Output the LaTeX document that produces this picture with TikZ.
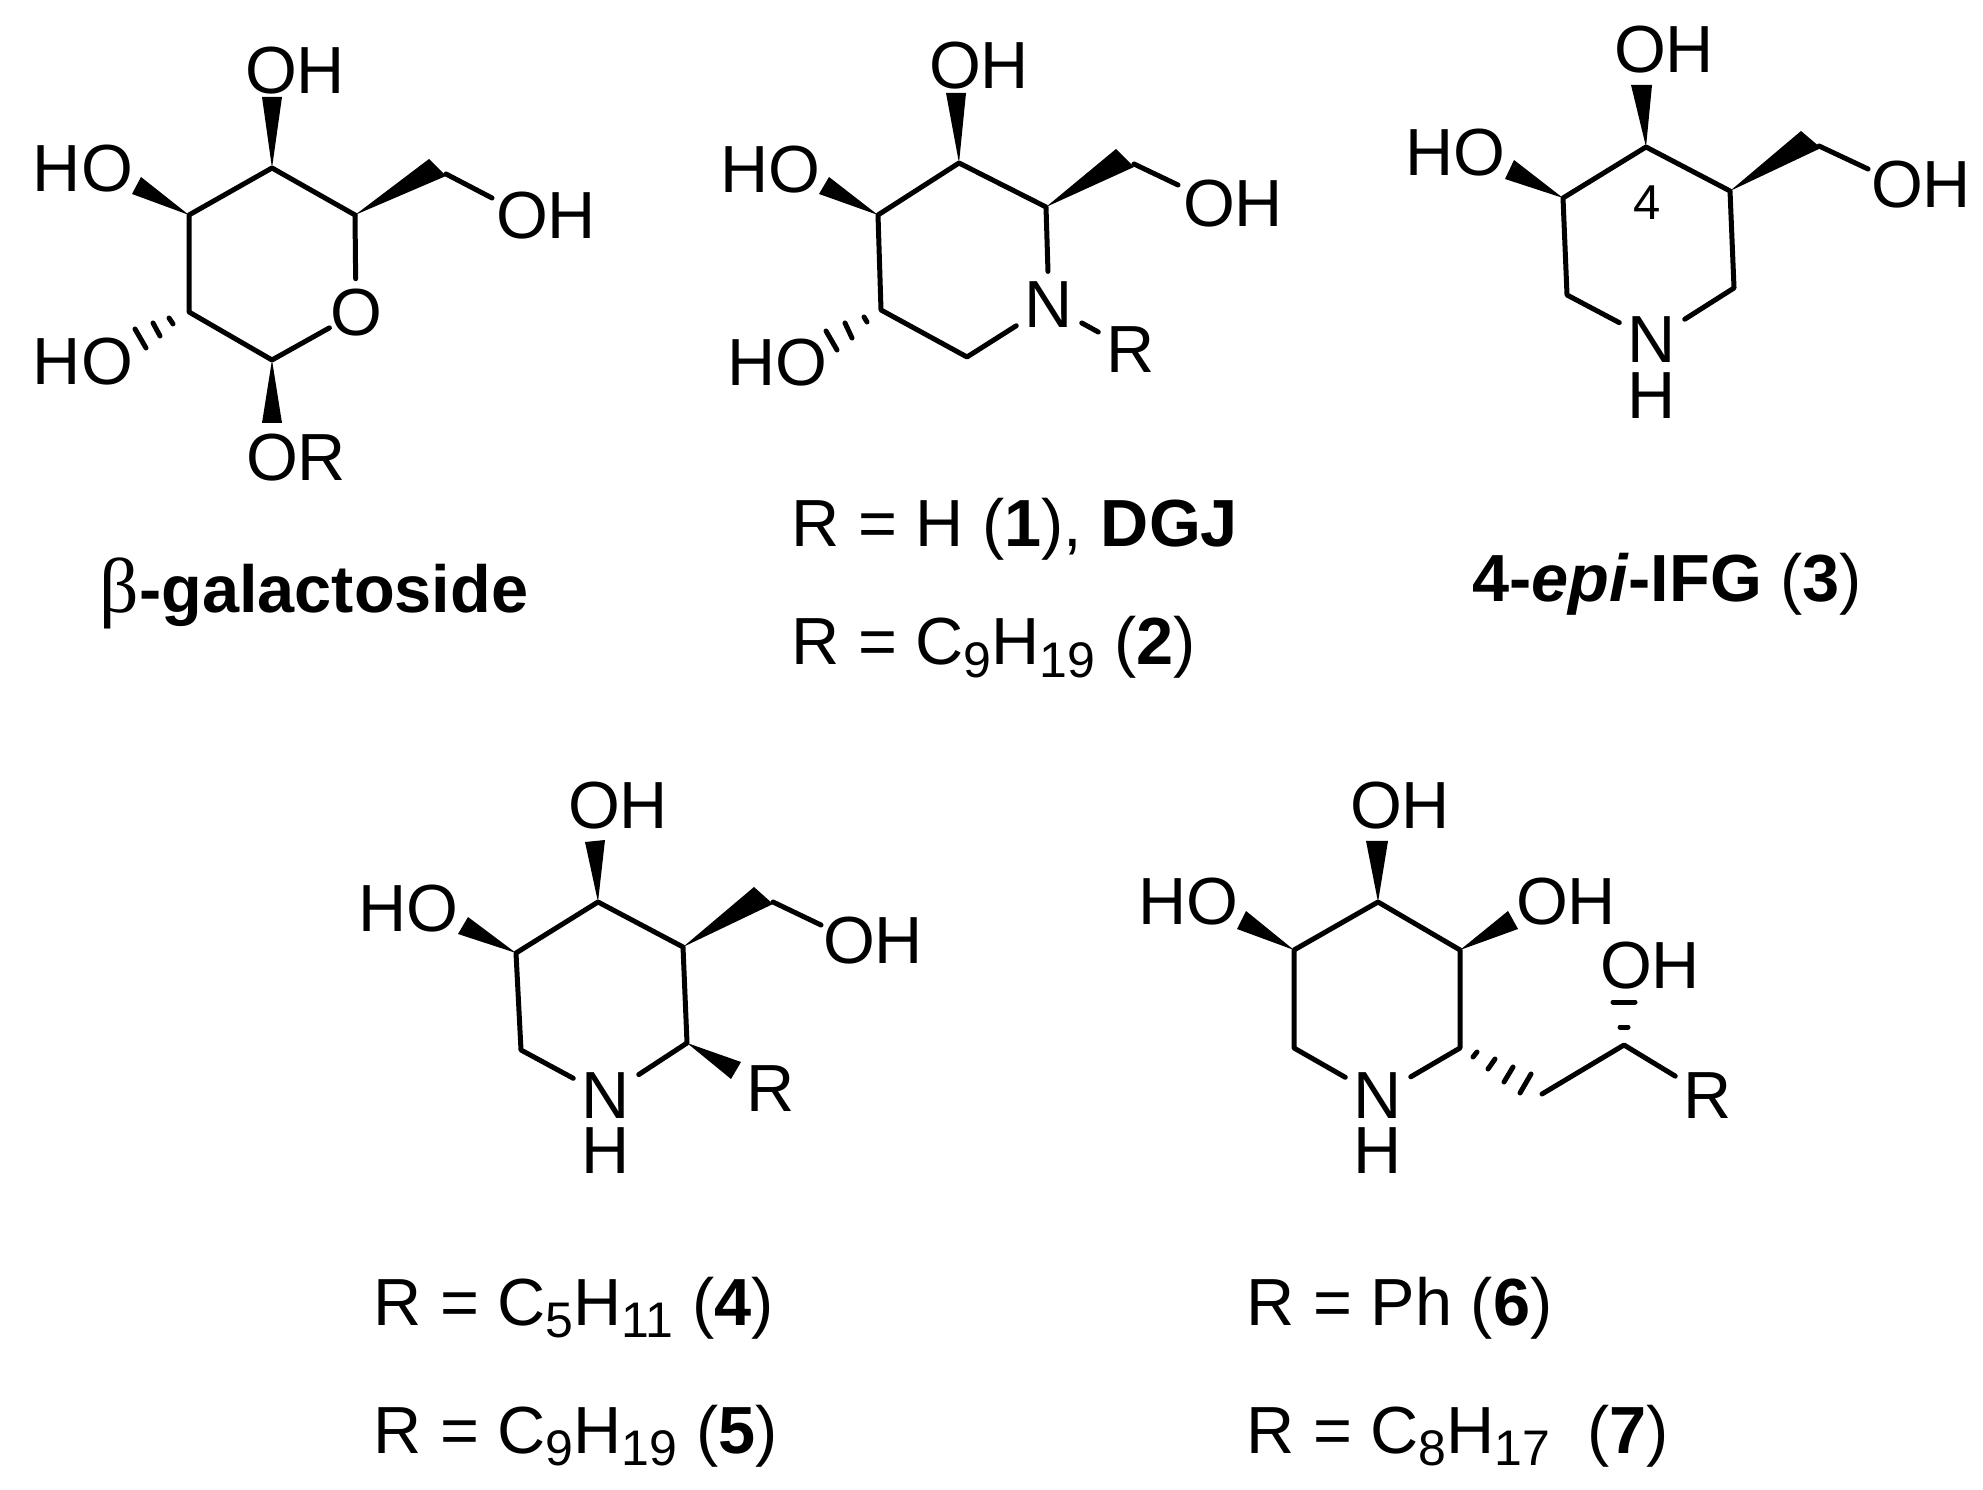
\documentclass[tikz,border=0pt]{standalone}
\usepackage{fontspec}
\setmainfont{Liberation Sans}
\newfontfamily\betafont{Liberation Serif}
\usetikzlibrary{calc}
\newcommand{\lowered}[1]{\raisebox{-3.8pt}{\fontsize{15}{18}\selectfont #1}}
\tikzset{
	every node/.style={font=\fontsize{20}{24}\selectfont, inner sep=0pt},
	bond/.style={line width=1.5pt, line cap=round, line join=round},
	atom/.style={inner xsep=2.4pt, inner ysep=1pt},
	oxy/.style={inner xsep=0pt, inner ysep=3pt},
	hash/.style={line width=1.5pt, line cap=round},
	caption/.style={anchor=base west},
}

\begin{document}
\begin{tikzpicture}[x=.3pt, y=-.3pt]
	\useasboundingbox (0,0) rectangle (1983,1490);

	\coordinate (A1) at (272,168);
	\coordinate (A2) at (189,215);
	\coordinate (A3) at (189,312);
	\coordinate (A4) at (272,360);
	\coordinate (A5) at (355,215);
	\coordinate (A6) at (446,174);
	\coordinate (A7) at (492,198);
	\path (356,313) node (aO) [oxy] {O};
	\draw [bond] (A6) -- (A7);
	\draw [bond] (aO) -- (A5);
	\draw [bond] (A5) -- (A1) -- (A2) -- (A3) -- (A4) -- (aO);
	\fill (A1) -- (262,97) -- (282,97) -- cycle;
	\fill (A2) -- (141,177) -- (132,194) -- cycle;
	\fill (A5) -- (429,159) -- (446,176) -- cycle;
	\fill (A4) -- (262,423) -- (282,423) -- cycle;
	\draw [hash] (169,318) -- (173,324);
	\draw [hash] (153,323) -- (160,336);
	\draw [hash] (135,329) -- (146,348);
	\path (295,71) node (a1) [] {OH};
	\path (83,169) node (a2) [] {HO};
	\path (83,362) node (a3) [] {HO};
	\path (546,216) node (a4) [] {OH};
	\path (296,458) node (a5) [] {OR};
	\path (314,613) node (a6) [anchor=base] {{\betafont\fontsize{23.3}{24}\selectfont β}\textbf{-galactoside}};

	\coordinate (B1) at (959,163);
	\coordinate (B2) at (878,215);
	\coordinate (B3) at (881,310);
	\coordinate (B4) at (967,357);
	\coordinate (B5) at (1046,207);
	\coordinate (B6) at (1134,164);
	\coordinate (B7) at (1178,185);
	\path (1049,305) node (bN) [atom, inner ysep=3pt] {N};
	\path (1131,350) node (bR) [atom] {R};
	\draw [bond] (B6) -- (B7);
	\draw [bond] (bN) -- (B5) -- (B1) -- (B2) -- (B3) -- (B4) -- (bN);
	\draw [bond] (bN) -- (bR);
	\fill (B1) -- (946,93) -- (966,93) -- cycle;
	\fill (B2) -- (829,177) -- (819,194) -- cycle;
	\fill (B5) -- (1116,149) -- (1134,167) -- cycle;
	\draw [hash] (864,317) -- (867,322);
	\draw [hash] (845,323) -- (852,338);
	\draw [hash] (826,331) -- (837,350);
	\path (979,66) node (b1) [] {OH};
	\path (770,170) node (b2) [] {HO};
	\path (777,363) node (b3) [] {HO};
	\path (1233,204) node (b4) [] {OH};
	\path (791,547) node (b5) [caption] {R = H (\textbf{1}), \textbf{DGJ}};
	\path (791,665) node (b6) [caption] {R = C\lowered{9}H\lowered{19} (\textbf{2})};

	\coordinate (C1) at (1646,147);
	\coordinate (C2) at (1563,198);
	\coordinate (C3) at (1567,295);
	\coordinate (C4) at (1730,191);
	\coordinate (C5) at (1734,288);
	\coordinate (C6) at (1819,146);
	\coordinate (C7) at (1868,169);
	\path (1652,340) node (cN) [atom] {N};
	\path (1652,396) node (cH) [] {H};
	\draw [bond] (C6) -- (C7);
	\draw [bond] (cN) -- (C3) -- (C2) -- (C1) -- (C4) -- (C5) -- (cN);
	\fill (C1) -- (1631,85) -- (1652,85) -- cycle;
	\fill (C2) -- (1514,160) -- (1505,179) -- cycle;
	\fill (C4) -- (1801,131) -- (1821,148) -- cycle;
	\path (1664,50) node (c1) [] {OH};
	\path (1455,153) node (c2) [] {HO};
	\path (1921,185) node (c3) [] {OH};
	\path (1647,203) node (c4) [font=\fontsize{14.7}{18}\selectfont] {4};
	\path (1667,602) node (c5) [anchor=base] {\textbf{4-\textit{epi}-IFG} (\textbf{3})};

	\coordinate (D1) at (598,902);
	\coordinate (D2) at (516,953);
	\coordinate (D3) at (521,1050);
	\coordinate (D4) at (683,947);
	\coordinate (D5) at (687,1043);
	\coordinate (D6) at (773,902);
	\coordinate (D7) at (821,925);
	\path (606,1096) node (dN) [atom] {N};
	\path (606,1151) node (dH) [] {H};
	\draw [bond] (D6) -- (D7);
	\draw [bond] (dN) -- (D3) -- (D2) -- (D1) -- (D4) -- (D5) -- (dN);
	\fill (D1) -- (585,842) -- (605,840) -- cycle;
	\fill (D2) -- (468,917) -- (458,934) -- cycle;
	\fill (D4) -- (754,887) -- (773,904) -- cycle;
	\fill (D5) -- (741,1062) -- (731,1079) -- cycle;
	\path (618,806) node (d1) [] {OH};
	\path (408,909) node (d2) [] {HO};
	\path (873,941) node (d3) [] {OH};
	\path (771,1089) node (d4) [] {R};
	\path (373,1325) node (d5) [caption] {R = C\lowered{5}H\lowered{11} (\textbf{4})};
	\path (373,1453) node (d6) [caption] {R = C\lowered{9}H\lowered{19} (\textbf{5})};

	\coordinate (E1) at (1378,902);
	\coordinate (E2) at (1294,950);
	\coordinate (E3) at (1294,1048);
	\coordinate (E4) at (1460,950);
	\coordinate (E5) at (1460,1048);
	\coordinate (E6) at (1542,1094);
	\coordinate (E7) at (1624,1045);
	\path (1378,1096) node (eN) [atom] {N};
	\path (1378,1151) node (eH) [] {H};
	\path (1708,1096) node (eR) [atom] {R};
	\draw [bond] (eN) -- (E3) -- (E2) -- (E1) -- (E4) -- (E5) -- (eN);
	\draw [bond] (E6) -- (E7) -- (eR);
	\fill (E1) -- (1366,841) -- (1388,841) -- cycle;
	\fill (E2) -- (1246,911) -- (1237,929) -- cycle;
	\fill (E4) -- (1508,911) -- (1518,929) -- cycle;
	\draw [hash] (1473,1057) -- (1477,1052);
	\draw [hash] (1488,1069) -- (1495,1059);
	\draw [hash] (1504,1082) -- (1513,1067);
	\draw [hash] (1520,1093) -- (1531,1074);
	\draw [hash] (1620,1027) -- (1628,1027);
	\draw [hash] (1613,1002) -- (1635,1002);
	\path (1400,806) node (e1) [] {OH};
	\path (1188,902) node (e2) [] {HO};
	\path (1566,902) node (e3) [] {OH};
	\path (1650,966) node (e4) [] {OH};
	\path (1246,1325) node (e5) [caption] {R = Ph (\textbf{6})};
	\path (1246,1453) node (e6) [caption] {R = C\lowered{8}H\lowered{17}\ \ (\textbf{7})};
\end{tikzpicture}
\end{document}
